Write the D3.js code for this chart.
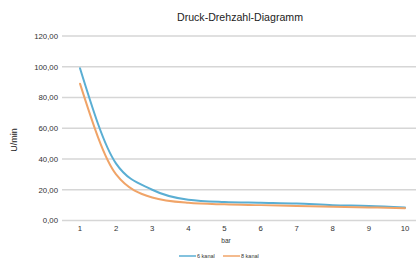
<!DOCTYPE html>
<html>
<head>
<meta charset="utf-8">
<script src="https://cdn.jsdelivr.net/npm/d3@7"></script>
<style>
  body { margin: 0; background: #fff; }
  text { font-family: "Liberation Sans", Arial, sans-serif; }
</style>
</head>
<body>
<div id="chart"></div>
<script>
//////////////////////// Data ////////////////////////////
var bars = [1, 2, 3, 4, 5, 6, 7, 8, 9, 10];
var kanal6 = [99, 37, 20, 13.5, 12, 11.5, 11, 10, 9.5, 8.5];
var kanal8 = [89, 30, 15, 11.5, 10.5, 10, 9.5, 9, 8.5, 8];
var yTicks = [0, 20, 40, 60, 80, 100, 120];
var seriesNames = ["6 kanal", "8 kanal"];
var seriesColors = ["#5aaed3", "#f0a468"];

//////////////////////// Set-Up ////////////////////////////
var width = 416, height = 262;

var svg = d3.select("#chart").append("svg")
  .attr("width", width)
  .attr("height", height);

var x = d3.scalePoint()
  .domain(bars)
  .range([80, 405]);

var y = d3.scaleLinear()
  .domain([0, 120])
  .range([220.5, 36]);

//gridlines
svg.append("g").selectAll("line")
  .data(yTicks)
  .enter().append("line")
  .attr("x1", 62)
  .attr("x2", 416)
  .attr("y1", function(d) { return y(d); })
  .attr("y2", function(d) { return y(d); })
  .attr("stroke", "#d6d6d6")
  .attr("stroke-width", 1.5);

//y tick labels
svg.append("g").selectAll("text")
  .data(yTicks)
  .enter().append("text")
  .attr("x", 58)
  .attr("y", function(d) { return y(d) + 2.8; })
  .attr("text-anchor", "end")
  .style("font-size", "7.8px")
  .attr("fill", "#333")
  .text(function(d) { return d3.format(".2f")(d).replace(".", ","); });

//x tick labels
svg.append("g").selectAll("text")
  .data(bars)
  .enter().append("text")
  .attr("x", function(d) { return x(d); })
  .attr("y", 231)
  .attr("text-anchor", "middle")
  .style("font-size", "7.8px")
  .attr("fill", "#333")
  .text(function(d) { return d; });

//titles
svg.append("text")
  .attr("x", 240)
  .attr("y", 21)
  .attr("text-anchor", "middle")
  .style("font-size", "10.6px")
  .attr("fill", "#222")
  .text("Druck-Drehzahl-Diagramm");

svg.append("text")
  .attr("transform", "translate(17,140) rotate(-90)")
  .attr("text-anchor", "middle")
  .style("font-size", "9px")
  .attr("fill", "#222")
  .text("U/min");

svg.append("text")
  .attr("x", 226)
  .attr("y", 243)
  .attr("text-anchor", "middle")
  .style("font-size", "6.5px")
  .attr("fill", "#333")
  .text("bar");

//lines
var line = d3.line()
  .x(function(d, i) { return x(bars[i]); })
  .y(function(d) { return y(d); })
  .curve(d3.curveMonotoneX);

[kanal6, kanal8].forEach(function(s, i) {
  svg.append("path")
    .datum(s)
    .attr("d", line)
    .attr("fill", "none")
    .attr("stroke", seriesColors[i])
    .attr("stroke-width", 2)
    .attr("stroke-linecap", "round");
});

//legend
var legend = svg.append("g").selectAll("g")
  .data(seriesNames)
  .enter().append("g")
  .attr("transform", function(d, i) { return "translate(" + (179 + i * 44) + ",256)"; });

legend.append("line")
  .attr("x1", 0).attr("x2", 17)
  .attr("stroke", function(d, i) { return seriesColors[i]; })
  .attr("stroke-width", 1.5);

legend.append("text")
  .attr("x", 18)
  .attr("y", 2)
  .style("font-size", "5.5px")
  .attr("fill", "#333")
  .text(function(d) { return d; });
</script>
</body>
</html>
